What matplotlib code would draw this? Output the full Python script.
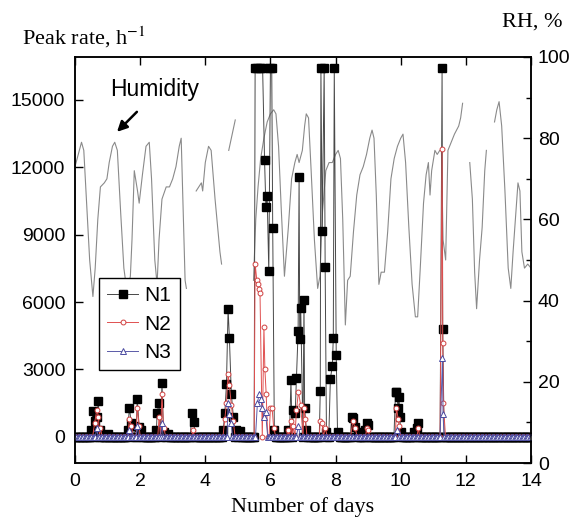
import numpy as np
import matplotlib
matplotlib.use("Agg")
import matplotlib.pyplot as plt

plt.rcParams['font.family'] = ['Liberation Sans', 'DejaVu Sans']
plt.rcParams['mathtext.fontset'] = 'stix'

# Relative humidity trace (day, %), nan = gap in record
hum_day = [0.0, 0.1, 0.2, 0.27, 0.35, 0.45, 0.55, 0.62, 0.7, 0.78, 0.9, 0.98,
           1.05, 1.15, 1.22, 1.3, 1.4, 1.5, 1.6, 1.7, 1.75, 1.82, 1.92, 1.97,
           2.07, 2.18, 2.28, 2.35, 2.45, 2.52, 2.58, 2.67, 2.8, 2.9, 3.0, 3.1,
           3.2, 3.26, 3.32, 3.38, 3.42, np.nan,
           3.72, 3.8, 3.88, 3.92, 4.0, 4.1, 4.18, 4.3, 4.45, 4.5, np.nan,
           4.72, 4.8, 4.92, np.nan,
           5.48, 5.55, 5.62, 5.7, 5.8, 5.9, 6.0, 6.1, 6.17, 6.25, 6.33, 6.43,
           6.55, 6.65, 6.75, 6.82, 6.88, 6.98, 7.05, 7.1, 7.17, 7.25, 7.35, 7.45,
           7.52, 7.6, 7.7, 7.8, 7.9, 8.0, 8.08, 8.15, 8.22, 8.3, 8.37, 8.45,
           8.55, 8.65, 8.75, 8.85, 8.95, 9.05, 9.12, 9.18, 9.25, 9.33, 9.4, 9.5,
           9.6, 9.7, 9.8, 9.9, 10.0, 10.07, 10.15, 10.25, 10.35, 10.45, 10.52,
           10.6, 10.7, 10.78, 10.85, 10.9, 10.95, 11.05, 11.12, 11.2, 11.25,
           11.3, 11.38, 11.45, 11.55, 11.65, 11.78, 11.84, 11.9, np.nan,
           12.12, 12.2, 12.27, 12.33, 12.42, 12.5, 12.58, 12.63, np.nan,
           12.88, 12.95, 13.02, 13.1, 13.2, 13.3, 13.38, 13.45, 13.52, 13.6,
           13.66, 13.72, 13.8, 13.9, 14.0]
hum_rh = [73, 76, 79, 77, 65, 50, 41, 48, 60, 68, 69, 70,
          74, 78, 79, 77, 62, 48, 42, 46, 55, 72, 67, 64,
          71, 78, 79, 70, 50, 44, 55, 65, 68, 68, 70, 73,
          78, 80, 62, 45, 43, np.nan,
          67, 68, 69, 67, 74, 78, 77, 65, 52, 49, np.nan,
          77, 80, 84.5, np.nan,
          45, 60, 68, 75, 80, 84, 86, 87, 86, 78, 63, 46,
          58, 70, 74, 76, 74, 77, 83, 86, 85, 72, 55, 43,
          46, 62, 72, 74, 74, 76, 77, 75, 60, 34, 45, 46,
          57, 66, 71, 73, 76, 80, 82, 80, 66, 44, 47, 47,
          57, 70, 75, 78, 80, 81, 74, 58, 44, 36, 36,
          48, 64, 71, 74, 66, 72, 77, 76, 77, 77,
          55, 50, 77, 79, 81, 83, 85, 88.6, np.nan,
          74, 65, 47, 38, 50, 58, 72, 77, np.nan,
          84, 87, 89, 83, 67, 48, 43, 52, 60, 69,
          67, 52, 48, 49, 48]

# Peak rate events above the zero baseline (day, counts per hour)
n1_day = [0.50, 0.55, 0.62, 0.67, 0.72, 0.78, 1.0,
          1.62, 1.67, 1.73, 1.8, 1.91, 1.97, 2.03,
          2.5, 2.52, 2.58, 2.67, 2.72, 2.85,
          3.58, 3.64,
          4.55, 4.6, 4.65, 4.7, 4.74, 4.8, 4.86, 4.95, 5.07,
          5.53, 5.6, 5.68, 5.76, 5.82, 5.86, 5.9, 5.95, 6.0, 6.04, 6.07, 6.12,
          6.53, 6.63, 6.7, 6.76, 6.8, 6.85, 6.88, 6.9, 6.93, 7.03, 7.05, 7.1,
          7.53, 7.55, 7.59, 7.65, 7.68, 7.72, 7.84, 7.9, 7.93, 7.96, 8.02, 8.06,
          8.5, 8.53, 8.6, 8.7, 8.91, 8.96, 9.01,
          9.84, 9.87, 9.92, 9.95, 9.97, 10.0,
          10.42, 10.5, 10.54,
          11.27, 11.29]
n1_rate = [300, 1150, 700, 900, 1600, 300, 150,
           300, 1300, 600, 500, 1700, 450, 300,
           300, 1070, 1500, 2400, 200, 150,
           1070, 650,
           300, 1070, 2360, 5700, 4400, 1900, 900, 300, 250,
           16400, 16400, 16400, 16400, 12300, 10240, 10700, 7360, 16400, 16400, 9290, 300,
           310, 2540, 1200, 1050, 2610, 4690, 11570, 4350, 5730, 6100, 1280, 300,
           2050, 16400, 9170, 16400, 7570, 200, 2580, 3160, 4400, 16400, 3650, 200,
           890, 830, 450, 200, 310, 620, 530,
           2000, 2010, 1290, 1780, 900, 200,
           220, 400, 620,
           16400, 4810]

n2_day = [0.6, 0.67, 0.72, 0.78,
          1.67, 1.73, 1.91, 1.97,
          2.58, 2.67, 2.72, 3.62,
          4.6, 4.65, 4.7, 4.74, 4.8, 4.86,
          5.53, 5.58, 5.62, 5.65, 5.68, 5.8, 5.83, 5.87, 6.0, 6.05, 6.1,
          6.53, 6.63, 6.7, 6.8, 6.86, 6.93, 7.03, 7.07,
          7.53, 7.59, 7.68,
          8.53, 8.6, 8.96, 9.01,
          9.87, 9.92, 9.95, 10.54,
          11.27, 11.29, 11.31]
n2_rate = [600, 1200, 900, 400,
           800, 500, 1300, 500,
           900, 1900, 400, 300,
           800, 1500, 2800, 2300, 1400, 700,
           7700, 7000, 6800, 6600, 6400, 4900, 3000, 1900, 1300, 1300, 400,
           300, 700, 500, 1200, 2000, 1400, 1300, 800,
           700, 600, 400,
           700, 400, 400, 300,
           1300, 800, 500, 400,
           12800, 4200, 1500]

n3_day = [0.67, 1.67, 1.91, 2.67,
          4.7, 4.74, 4.8,
          5.6, 5.65, 5.7, 5.75, 5.8, 5.85,
          6.86, 9.9, 11.28, 11.3]
n3_rate = [400, 300, 500, 600,
           1500, 1000, 600,
           1500, 1900, 1700, 1300, 900, 1100,
           500, 300, 3500, 1000]

# hourly sampling grid, where the counters read zero between events
hours = np.arange(0, 14.001, 1 / 24)


def with_baseline(days, vals):
    d = np.array(days)
    v = np.array(vals, dtype=float)
    keep = np.min(np.abs(hours[:, None] - d[None, :]), axis=1) > 0.03
    t = np.concatenate([hours[keep], d])
    y = np.concatenate([np.zeros(keep.sum()), v])
    o = np.argsort(t)
    return t[o], y[o]


fig = plt.figure(figsize=(5.76, 5.26), dpi=100)
ax = fig.add_axes([75 / 576, 63 / 526, 456 / 576, 406 / 526])
ax2 = ax.twinx()

# humidity behind, peak rates and legend on top
ax.set_zorder(ax2.get_zorder() + 1)
ax.patch.set_visible(False)

ax2.plot(hum_day, hum_rh, color='#8a8a8a', lw=0.8)
ax2.set_ylim(0, 100)
ax2.set_yticks(np.arange(0, 101, 20))
ax2.set_yticks(np.arange(0, 101, 10), minor=True)

t1, y1 = with_baseline(n1_day, n1_rate)
t2, y2 = with_baseline(n2_day, n2_rate)
t3, y3 = with_baseline(n3_day, n3_rate)

ax.plot(t1, y1, color='#484848', lw=0.7, marker='s', ms=5.5,
        mfc='black', mec='black', label='N1')
ax.plot(t2, y2, color='#e05050', lw=0.7, marker='o', ms=3.5,
        mfc='white', mec='#d04040', mew=0.7, label='N2')
ax.plot(t3, y3, color='#5a5aa8', lw=0.7, marker='^', ms=4,
        mfc='white', mec='#4a4aa0', mew=0.7, label='N3')

ax.set_xlim(0, 14)
ax.set_ylim(-1160, 16900)
ax.set_xticks(np.arange(0, 15, 2))
ax.set_yticks(np.arange(0, 15001, 3000))

for a in (ax, ax2):
    for s in a.spines.values():
        s.set_linewidth(1.1)
    a.tick_params(direction='in', length=6, width=1, labelsize=14)
    a.tick_params(which='minor', direction='in', length=3.5, width=1)
ax.tick_params(top=True, right=False)
ax.tick_params(axis='x', pad=7)
ax.tick_params(axis='y', pad=7)
ax2.tick_params(pad=5)

leg = ax.legend(loc='upper left', bbox_to_anchor=(0.052, 0.456),
                borderaxespad=0, fontsize=15, handlelength=1.5,
                handletextpad=0.3, labelspacing=0.45, borderpad=0.4,
                fancybox=False, framealpha=1, edgecolor='black')
leg.get_frame().set_linewidth(1)

ax.text(1.08, 15440, 'Humidity', fontsize=16.5, va='center', ha='left')
ax.annotate('', xy=(1.29, 13570), xytext=(1.9, 14460),
            arrowprops=dict(arrowstyle='-|>', color='black', lw=1.8,
                            mutation_scale=15, shrinkA=0, shrinkB=0))

fig.text(22 / 576, 1 - 37 / 526, 'Peak rate, h$^{-1}$', fontsize=16,
         family='Liberation Serif', va='center', ha='left')
fig.text(562 / 576, 1 - 22 / 526, 'RH, %', fontsize=16,
         family='Liberation Serif', va='center', ha='right')
fig.text(303 / 576, 1 - 507 / 526, 'Number of days', fontsize=16,
         family='Liberation Serif', va='center', ha='center')

fig.savefig('out.png', dpi=100)
